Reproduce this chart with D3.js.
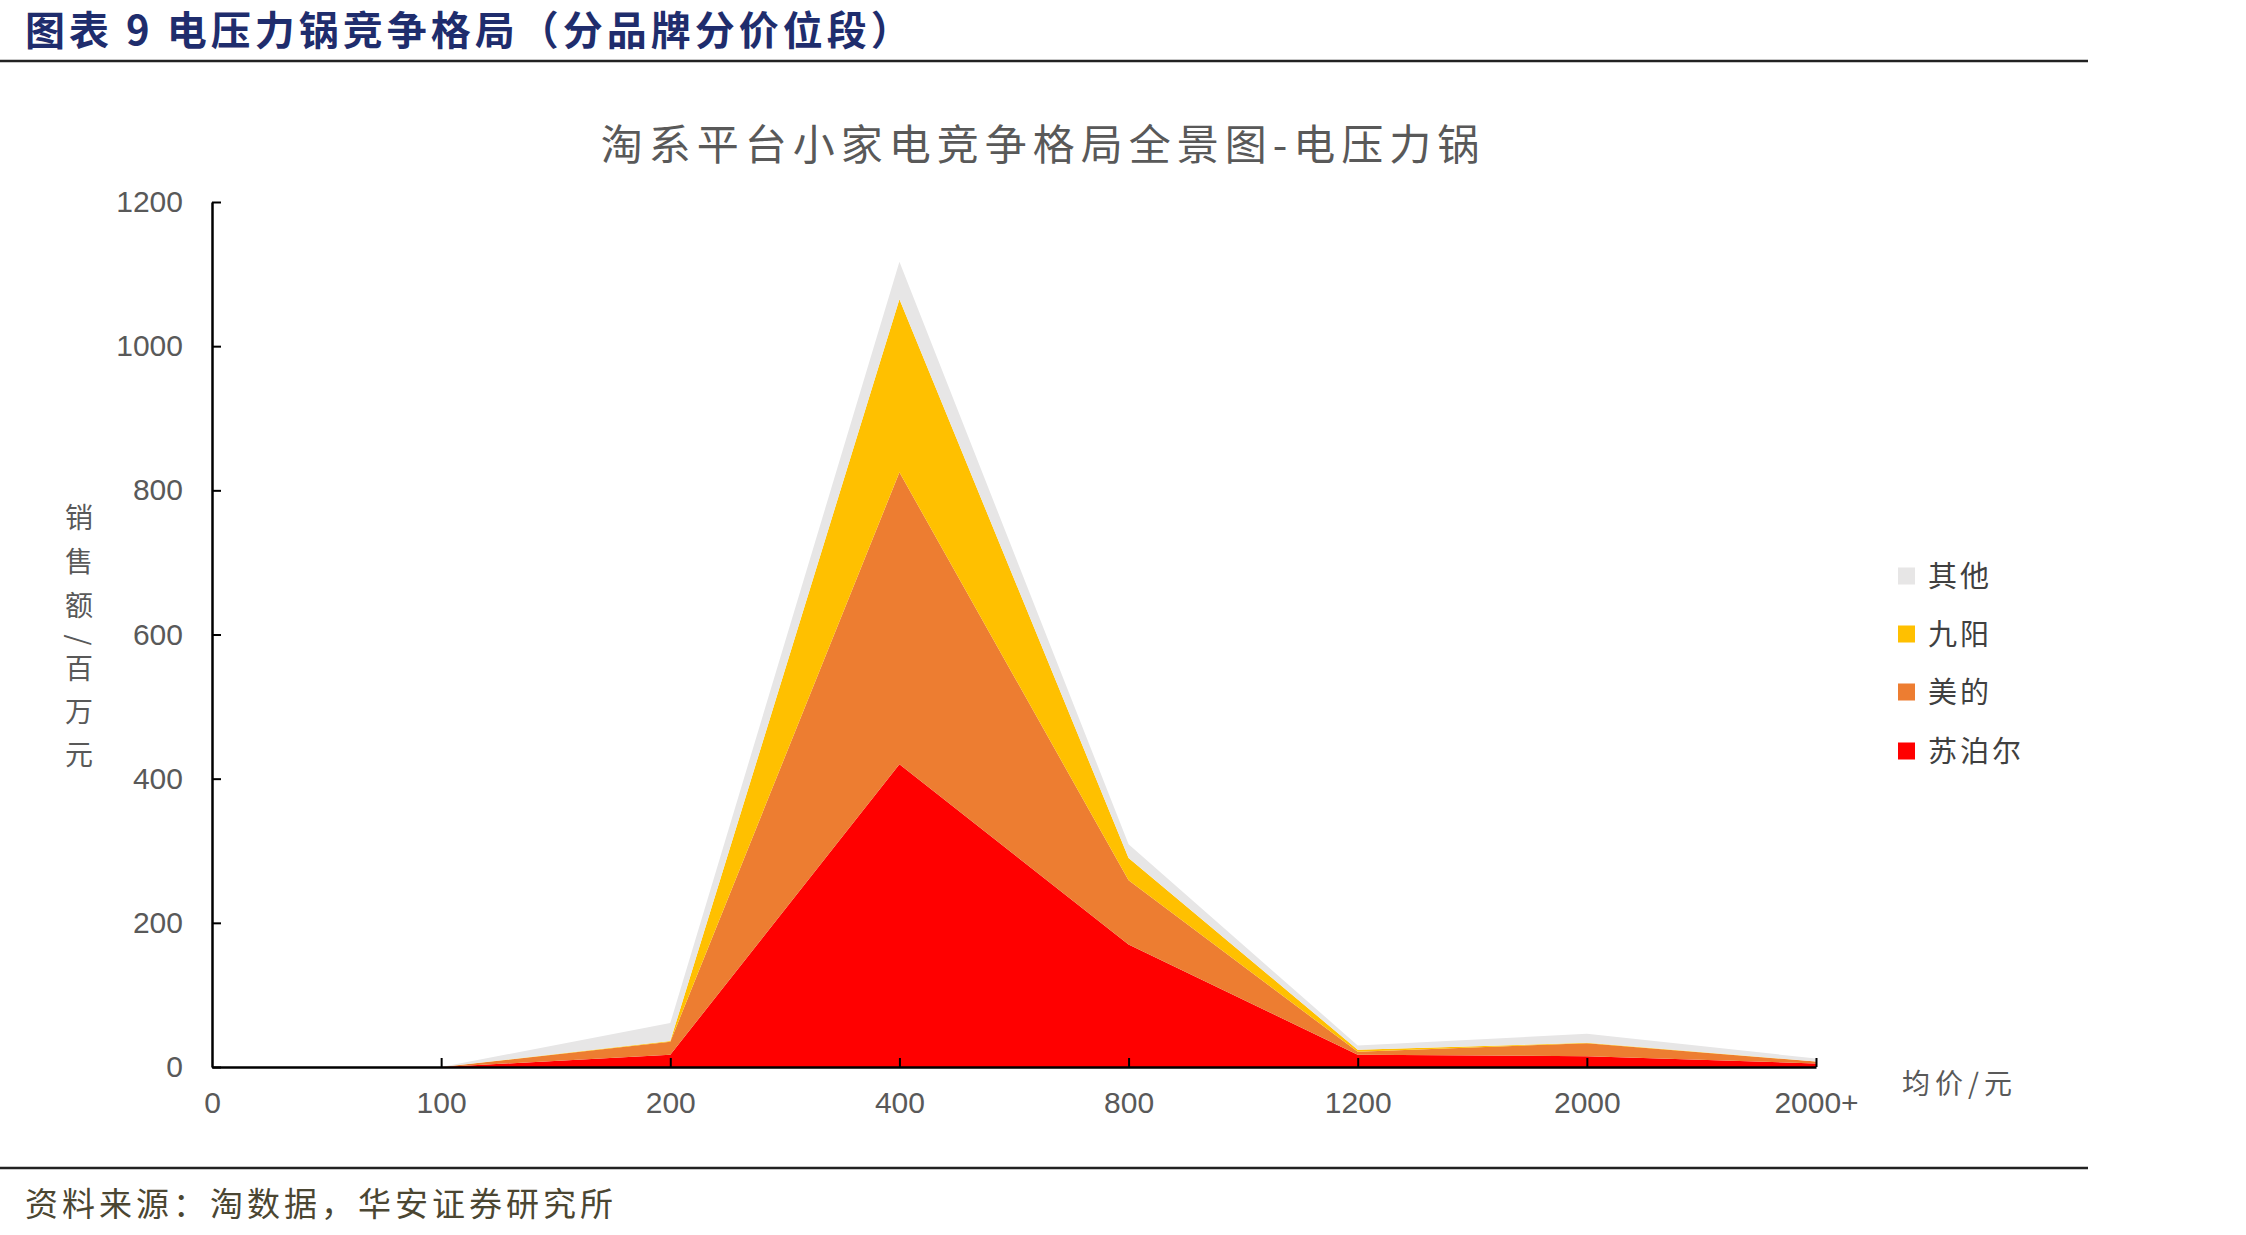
<!DOCTYPE html>
<html>
<head>
<meta charset="utf-8">
<script src="https://cdn.jsdelivr.net/npm/d3@7"></script>
<style>
  body { margin: 0; background: #fff; }
  svg { display: block; }
  .cjk { font-family: "Noto Sans CJK SC", sans-serif; }
  .num { font-family: "Liberation Sans", Arial, sans-serif; }
</style>
</head>
<body>
<svg id="chart" width="2246" height="1235" viewBox="0 0 2246 1235"></svg>
<script>
// price bands (yuan) and sales by brand (million yuan)
const categories = ["0", "100", "200", "400", "800", "1200", "2000", "2000+"];
const supor   = [0, 0, 17, 420, 170, 17, 15, 5];
const midea   = [0, 0, 18, 405, 89, 4, 18, 2.5];
const joyoung = [0, 0, 1, 240, 31, 3, 0.5, 0.3];
const others  = [0, 0, 25, 52, 19, 6, 12.5, 4];
const yTicks = [0, 200, 400, 600, 800, 1000, 1200];

const seriesNames  = ["苏泊尔", "美的", "九阳", "其他"];
const seriesColors = ["#FF0000", "#ED7D31", "#FFC000", "#E7E6E6"];

let table = categories.map(function(c, i) {
    return {cat: c, "苏泊尔": supor[i], "美的": midea[i], "九阳": joyoung[i], "其他": others[i]};
});

let svg = d3.select("#chart");

// header
svg.append("text")
    .attr("class", "cjk")
    .attr("x", 25).attr("y", 45)
    .attr("font-size", 40).attr("font-weight", "bold")
    .attr("letter-spacing", 4)
    .attr("fill", "#1f2d6d")
    .text("图表 9 电压力锅竞争格局（分品牌分价位段）");
svg.append("line")
    .attr("x1", 0).attr("x2", 2088).attr("y1", 61).attr("y2", 61)
    .attr("stroke", "#222").attr("stroke-width", 2.5);

svg.append("line")
    .attr("x1", 0).attr("x2", 2088).attr("y1", 1168).attr("y2", 1168)
    .attr("stroke", "#222").attr("stroke-width", 2.5);
svg.append("text")
    .attr("class", "cjk")
    .attr("x", 25).attr("y", 1216)
    .attr("font-size", 33).attr("letter-spacing", 4)
    .attr("fill", "#4b4632")
    .text("资料来源：淘数据，华安证券研究所");

// chart title
svg.append("text")
    .attr("class", "cjk")
    .attr("x", 1043).attr("y", 160)
    .attr("text-anchor", "middle")
    .attr("font-size", 42).attr("letter-spacing", 6)
    .attr("fill", "#595959")
    .text("淘系平台小家电竞争格局全景图-电压力锅");

let x = d3.scalePoint().domain(categories).range([212, 1816]);
let y = d3.scaleLinear().domain([0, 1200]).range([1067, 202]);

let stacked = d3.stack().keys(seriesNames)(table);

let area = d3.area()
    .x(function(d) { return x(d.data.cat); })
    .y0(function(d) { return y(d[0]); })
    .y1(function(d) { return y(d[1]); });

svg.append("g")
    .selectAll("path")
    .data(stacked)
    .enter()
    .append("path")
    .attr("d", area)
    .attr("fill", function(d, i) { return seriesColors[i]; });

// axes
let yAxis = svg.append("g")
    .attr("transform", "translate(212,0)")
    .call(d3.axisLeft(y).tickValues(yTicks).tickFormat(d3.format("d"))
        .tickSizeInner(-9).tickSizeOuter(0).tickPadding(29));
let xAxis = svg.append("g")
    .attr("transform", "translate(0,1067)")
    .call(d3.axisBottom(x).tickSizeInner(-9).tickSizeOuter(0).tickPadding(25));

[yAxis, xAxis].forEach(function(ax) {
    ax.select(".domain").attr("stroke", "#000").attr("stroke-width", 2.5);
    ax.selectAll(".tick line").attr("stroke", "#000").attr("stroke-width", 2);
    ax.selectAll(".tick text")
        .attr("class", "num")
        .attr("font-size", 30)
        .attr("fill", "#595959");
});
xAxis.selectAll(".tick").filter(function(d) { return d === "0"; }).select("line").remove();

// y axis title, stacked vertically
const yLabelChars = ["销", "售", "额", "/", "百", "万", "元"];
const yLabelPos   = [518, 562, 606, 640, 669, 712, 755];
svg.append("g")
    .selectAll("text")
    .data(yLabelChars)
    .enter()
    .append("text")
    .attr("class", "cjk")
    .attr("font-size", 28)
    .attr("fill", "#595959")
    .attr("text-anchor", "middle")
    .attr("transform", function(d, i) {
        if (d === "/") return "translate(79," + yLabelPos[i] + ") rotate(90)";
        return "translate(79," + (yLabelPos[i] + 10) + ")";
    })
    .attr("dy", function(d) { return d === "/" ? "0.35em" : 0; })
    .text(function(d) { return d; });

// x axis title
svg.append("text")
    .attr("class", "cjk")
    .attr("x", 1902).attr("y", 1094)
    .attr("font-size", 28).attr("letter-spacing", 5)
    .attr("fill", "#595959")
    .text("均价/元");

// legend (top to bottom: 其他, 九阳, 美的, 苏泊尔)
const legendY = [576, 634, 692, 751];
let legend = svg.append("g")
    .selectAll("g")
    .data(seriesNames.slice().reverse())
    .enter()
    .append("g")
    .attr("transform", function(d, i) { return "translate(1898," + legendY[i] + ")"; });
legend.append("rect")
    .attr("x", 0).attr("y", -8.5).attr("width", 17).attr("height", 17)
    .attr("fill", function(d) { return seriesColors[seriesNames.indexOf(d)]; });
legend.append("text")
    .attr("class", "cjk")
    .attr("x", 30).attr("y", 10.5)
    .attr("font-size", 29).attr("letter-spacing", 3)
    .attr("fill", "#404040")
    .text(function(d) { return d; });
</script>
</body>
</html>
